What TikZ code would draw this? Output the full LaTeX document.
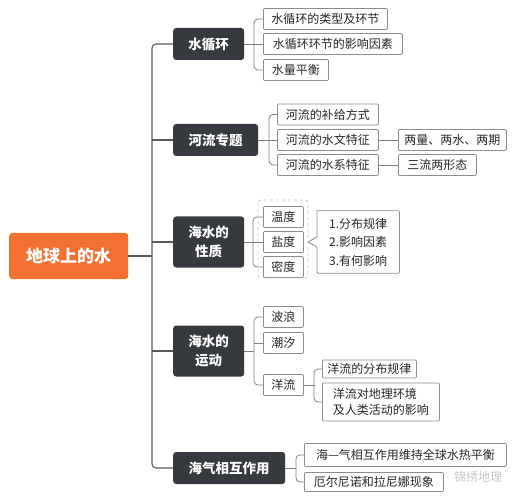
\documentclass[tikz,border=0pt]{standalone}
\usepackage{fontspec}
\setmainfont{Noto Sans CJK SC}
\usetikzlibrary{calc}
\definecolor{rootc}{RGB}{243,112,50}
\definecolor{darkc}{RGB}{54,58,63}
\definecolor{boxline}{RGB}{140,140,140}
\definecolor{linkc}{RGB}{90,90,90}
\begin{document}
\begin{tikzpicture}[x=1pt,y=-1pt,
  rootbox/.style={fill=rootc,text=white,rounded corners=3pt,anchor=west,inner sep=0pt,
    minimum width=119pt,minimum height=46pt,font=\fontsize{17}{20}\selectfont\bfseries},
  topicbox/.style={fill=darkc,text=white,rounded corners=3pt,anchor=west,inner sep=0pt,
    align=center,minimum height=32pt,font=\fontsize{13.5}{19}\selectfont\bfseries},
  leafbox/.style={draw=boxline,line width=0.8pt,rounded corners=1pt,anchor=west,inner sep=0pt,
    align=left,minimum height=21pt,font=\fontsize{12}{15.5}\selectfont,text=black!85},
  spine/.style={draw=linkc,line width=1.1pt,rounded corners=4pt},
  link/.style={draw=boxline!90!black,line width=0.8pt,rounded corners=4pt}]
\useasboundingbox (0,0) rectangle (520,500);

% root and topics
\node[rootbox] (root) at (9,256) {地球上的水};
\node[topicbox,minimum width=71pt] (n1) at (173,44) {水循环};
\node[topicbox,minimum width=85pt] (n2) at (173,140) {河流专题};
\node[topicbox,minimum width=71pt,minimum height=51pt] (n3) at (173,242) {海水的\\性质};
\node[topicbox,minimum width=71pt,minimum height=51pt] (n4) at (173,351) {海水的\\运动};
\node[topicbox,minimum width=112pt] (n5) at (173,468) {海气相互作用};

\coordinate (sp) at (152,0);
\draw[spine] (n1.west) -- (n1.west -| sp) |- (n5.west);
\draw[spine] (n2.west) -- (n2.west -| sp);
\draw[spine] (n3.west) -- (n3.west -| sp);
\draw[spine] (n4.west) -- (n4.west -| sp);
\draw[spine] (root.east) -- (root.east -| sp);

% 水循环
\node[leafbox,minimum width=124pt] (a1) at (263,19) {水循环的类型及环节};
\node[leafbox,minimum width=139pt] (a2) at (263,44) {水循环环节的影响因素};
\node[leafbox,minimum width=65pt] (a3) at (263,70) {水量平衡};
\draw[link] (a1.west) -- ++(-9,0) |- (a3.west);
\draw[link] (n1.east) -- (a2.west);

% 河流专题
\node[leafbox,minimum width=101pt] (b1) at (277,114.5) {河流的补给方式};
\node[leafbox,minimum width=101pt] (b2) at (277,140) {河流的水文特征};
\node[leafbox,minimum width=101pt] (b3) at (277,165) {河流的水系特征};
\node[leafbox,minimum width=108pt] (b2x) at (398,140) {两量、两水、两期};
\node[leafbox,minimum width=78pt] (b3x) at (398,165) {三流两形态};
\draw[link] (b1.west) -- ++(-8,0) |- (b3.west);
\draw[link] (n2.east) -- (b2.west);
\draw[link] (b2.east) -- (b2x.west);
\draw[link] (b3.east) -- (b3x.west);

% 海水的性质
\node[leafbox,minimum width=40pt] (c1) at (263,217) {温度};
\node[leafbox,minimum width=40pt] (c2) at (263,242) {盐度};
\node[leafbox,minimum width=40pt] (c3) at (263,267) {密度};
\draw[link] (c1.west) -- ++(-10,0) |- (c3.west);
\draw[link] (n3.east) -- (c2.west);
\draw[draw=black!22,dashed,line width=0.8pt,rounded corners=3pt] (258,200) rectangle (308,278);
\node[anchor=west,inner sep=0pt,minimum width=82pt,minimum height=62pt,align=left,
  font=\fontsize{12}{18.5}\selectfont,text=black!85] (d) at (317,242) {1.分布规律\\2.影响因素\\3.有何影响};
\draw[draw=boxline,line width=0.8pt,rounded corners=1pt] (d.north west) -- (d.north east) -- (d.south east) -- (d.south west) -- ($(d.west)+(0,5)$) [sharp corners] -- ($(d.west)+(-9,0)$) -- ($(d.west)+(0,-5)$) -- cycle;

% 海水的运动
\node[leafbox,minimum width=40pt] (e1) at (263,317) {波浪};
\node[leafbox,minimum width=40pt] (e2) at (263,343) {潮汐};
\node[leafbox,minimum width=40pt] (e3) at (263,385) {洋流};
\draw[link] (e1.west) -- ++(-9,0) |- (e3.west);
\draw[link] (e2.west) -- ++(-9,0);
\draw[link] (n4.east) -- ++(10,0);
\node[leafbox,minimum width=94pt,minimum height=18pt] (f1) at (322,369) {洋流的分布规律};
\node[leafbox,minimum width=117pt,minimum height=38pt,align=left] (f2) at (322,402) {洋流对地理环境\\及人类活动的影响};
\draw[link] (f1.west) -- ++(-8,0) |- (f2.west);
\draw[link] (e3.east) -- ++(11,0);

% 海气相互作用
\node[leafbox,minimum width=202pt,minimum height=23pt] (g1) at (304,455) {海—气相互作用维持全球水热平衡};
\node[leafbox,minimum width=139pt,minimum height=19pt] (g2) at (304,482) {厄尔尼诺和拉尼娜现象};
\draw[link] (g1.west) -- ++(-8,0) |- (g2.west);
\draw[link] (n5.east) -- ++(11,0);

% watermark
\node[inner sep=0pt,text=black!22,font=\fontsize{12}{14}\selectfont] (wm) at (478,477) {锦绣地理};
\end{tikzpicture}
\end{document}
